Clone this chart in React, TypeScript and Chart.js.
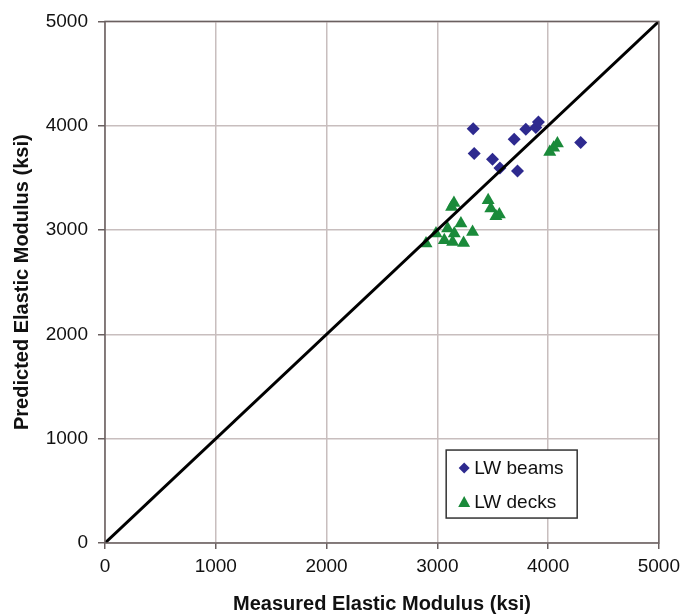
import React, { useEffect, useRef } from "react";
import { Chart, registerables } from "chart.js";

Chart.register(...registerables);

const beamsX = [3324, 3333, 3498, 3565, 3694, 3724, 3799, 3889, 3913, 4294];
const beamsY = [3972, 3733, 3678, 3595, 3870, 3566, 3966, 3982, 4036, 3838];

const decksX = [3129, 3150, 3459, 3483, 3529, 3560, 3213, 3318, 3093, 2988, 3153, 3063, 3138, 3237, 2898, 4084, 4015, 4050];
const decksY = [3222, 3260, 3285, 3206, 3132, 3150, 3062, 2982, 3014, 2967, 2967, 2902, 2886, 2876, 2870, 3829, 3748, 3790];

const lineX = [0, 5000];
const lineY = [0, 5000];

const axisTicks = [0, 1000, 2000, 3000, 4000, 5000];

const seriesNames = ["LW beams", "LW decks"];
const xTitle = "Measured Elastic Modulus (ksi)";
const yTitle = "Predicted Elastic Modulus (ksi)";

const BLUE = "#2e2a8f";
const GREEN = "#1a8a3a";

const legendPlugin = {
  id: "customLegend",
  afterDraw(chart: any) {
    const { ctx, scales } = chart;
    const xs = scales.x;
    const ys = scales.y;
    const left = xs.getPixelForValue(3080);
    const top = ys.getPixelForValue(891);
    const w = 131;
    const h = 68;
    ctx.save();
    ctx.fillStyle = "#ffffff";
    ctx.fillRect(left, top, w, h);
    ctx.strokeStyle = "#333333";
    ctx.lineWidth = 1.5;
    ctx.strokeRect(left, top, w, h);
    ctx.font = "19px 'Liberation Sans', Arial, sans-serif";
    ctx.textBaseline = "middle";
    ctx.textAlign = "left";
    const mx = left + 18;
    const d1y = top + 18;
    ctx.fillStyle = BLUE;
    ctx.beginPath();
    ctx.moveTo(mx, d1y - 5.5);
    ctx.lineTo(mx + 5.5, d1y);
    ctx.lineTo(mx, d1y + 5.5);
    ctx.lineTo(mx - 5.5, d1y);
    ctx.closePath();
    ctx.fill();
    const d2y = top + 52;
    ctx.fillStyle = GREEN;
    ctx.beginPath();
    ctx.moveTo(mx, d2y - 6);
    ctx.lineTo(mx + 6, d2y + 5);
    ctx.lineTo(mx - 6, d2y + 5);
    ctx.closePath();
    ctx.fill();
    ctx.fillStyle = "#111111";
    ctx.fillText(seriesNames[0], left + 28, d1y + 1);
    ctx.fillText(seriesNames[1], left + 28, d2y + 1);
    ctx.restore();
  },
};

const borderPlugin = {
  id: "plotBorder",
  afterDatasetsDraw(chart: any) {
    const { ctx, chartArea } = chart;
    ctx.save();
    ctx.strokeStyle = "#6a6060";
    ctx.lineWidth = 1.5;
    ctx.strokeRect(chartArea.left, chartArea.top, chartArea.right - chartArea.left, chartArea.bottom - chartArea.top);
    ctx.restore();
  },
};

export default function App() {
  const ref = useRef<HTMLCanvasElement>(null);
  useEffect(() => {
    const canvas = ref.current;
    if (!canvas) return;
    const font = "'Liberation Sans', Arial, sans-serif";
    const chart = new Chart(canvas, {
      type: "scatter",
      data: {
        datasets: [
          {
            type: "line",
            label: "1:1",
            data: lineX.map((x, i) => ({ x, y: lineY[i] })),
            borderColor: "#000000",
            borderWidth: 3,
            pointRadius: 0,
            fill: false,
            order: 0,
          } as any,
          {
            label: seriesNames[0],
            data: beamsX.map((x, i) => ({ x, y: beamsY[i] })),
            pointStyle: "rectRot",
            pointRadius: 6.5,
            backgroundColor: BLUE,
            borderColor: BLUE,
            borderWidth: 0,
            order: 1,
          },
          {
            label: seriesNames[1],
            data: decksX.map((x, i) => ({ x, y: decksY[i] })),
            pointStyle: "triangle",
            pointRadius: 7.5,
            backgroundColor: GREEN,
            borderColor: GREEN,
            borderWidth: 0,
            order: 2,
          },
        ],
      },
      options: {
        animation: false,
        responsive: false,
        maintainAspectRatio: false,
        layout: { padding: { left: 10, right: 26, top: 21, bottom: 0 } },
        plugins: {
          legend: { display: false },
          tooltip: { enabled: false },
        },
        scales: {
          x: {
            type: "linear",
            min: 0,
            max: 5000,
            afterBuildTicks: (axis: any) => {
              axis.ticks = axisTicks.map((v) => ({ value: v }));
            },
            afterFit: (axis: any) => {
              axis.height = 73;
            },
            grid: { color: "#c8bebe", lineWidth: 1.5, tickLength: 6, tickColor: "#6a6060" },
            border: { display: false },
            ticks: {
              color: "#111111",
              font: { family: font, size: 19 },
              padding: 6,
              maxRotation: 0,
              callback: (v: any) => String(v),
            },
            title: {
              display: true,
              text: xTitle,
              color: "#111111",
              font: { family: font, size: 20, weight: "bold" },
              padding: { top: 8, bottom: 0 },
            },
          },
          y: {
            type: "linear",
            min: 0,
            max: 5000,
            afterBuildTicks: (axis: any) => {
              axis.ticks = axisTicks.map((v) => ({ value: v }));
            },
            afterFit: (axis: any) => {
              axis.width = 95;
            },
            grid: { color: "#c8bebe", lineWidth: 1.5, tickLength: 7, tickColor: "#6a6060" },
            border: { display: false },
            ticks: {
              color: "#111111",
              font: { family: font, size: 19 },
              padding: 10,
              callback: (v: any) => String(v),
            },
            title: {
              display: true,
              text: yTitle,
              color: "#111111",
              font: { family: font, size: 20, weight: "bold" },
              padding: { top: 0, bottom: 6 },
            },
          },
        },
      },
      plugins: [borderPlugin, legendPlugin],
    });
    return () => chart.destroy();
  }, []);
  return (
    <div style={{ position: "absolute", left: 0, top: 0, width: 686, height: 616, background: "#ffffff" }}>
      <canvas ref={ref} width={686} height={616} style={{ display: "block", width: 686, height: 616 }} />
    </div>
  );
}
